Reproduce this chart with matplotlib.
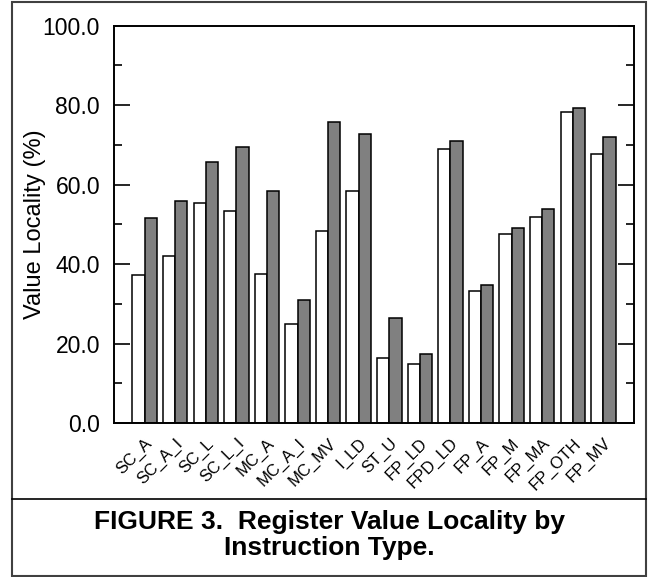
import matplotlib.pyplot as plt
import numpy as np
from matplotlib.patches import Rectangle
from matplotlib.lines import Line2D
from matplotlib.ticker import MultipleLocator, FormatStrFormatter

plt.rcParams['font.family'] = ['Liberation Sans', 'DejaVu Sans']

# instruction types and the two locality series (%)
types = ['SC_A', 'SC_A_I', 'SC_L', 'SC_L_I', 'MC_A', 'MC_A_I', 'MC_MV', 'I_LD',
         'ST_U', 'FP_LD', 'FPD_LD', 'FP_A', 'FP_M', 'FP_MA', 'FP_OTH', 'FP_MV']
white_vals = [37.3, 42.1, 55.3, 53.4, 37.6, 25.0, 48.3, 58.3,
              16.4, 14.8, 68.9, 33.2, 47.6, 51.8, 78.2, 67.8]
gray_vals = [51.7, 56.0, 65.8, 69.5, 58.4, 31.0, 75.8, 72.8,
             26.5, 17.3, 71.1, 34.8, 49.1, 53.9, 79.3, 72.1]

W, H = 649, 577
fig = plt.figure(figsize=(W / 100, H / 100), dpi=100)
ax = fig.add_axes([114 / W, 1 - 423 / H, 520 / W, (423 - 25.7) / H])

x = np.arange(1, len(types) + 1)
w = 0.4
ax.bar(x - w / 2, white_vals, w, color='white', edgecolor='black', linewidth=1.1)
ax.bar(x + w / 2, gray_vals, w, color='#808080', edgecolor='black', linewidth=1.1)

ax.set_xlim(0, 17)
ax.set_ylim(0, 100)
ax.yaxis.set_major_locator(MultipleLocator(20))
ax.yaxis.set_minor_locator(MultipleLocator(10))
ax.yaxis.set_major_formatter(FormatStrFormatter('%.1f'))
ax.tick_params(axis='y', which='both', direction='in', left=True, right=True, width=1.2)
ax.tick_params(axis='y', which='major', length=11.5, labelsize=16.5, pad=10)
ax.tick_params(axis='y', which='minor', length=6)
ax.tick_params(axis='x', length=0, pad=9)
ax.set_xticks(x)
ax.set_xticklabels(types, rotation=45, ha='right', va='top', rotation_mode='anchor', fontsize=12)
for s in ax.spines.values():
    s.set_linewidth(1.4)

ax.set_ylabel('Value Locality (%)', fontsize=17)
ax.yaxis.set_label_coords(-0.13, 0.5)

# outer frame and caption box
fig.add_artist(Rectangle((12 / W, 1 - 576 / H), 634 / W, 574 / H, transform=fig.transFigure,
                         fill=False, edgecolor='#404040', linewidth=1.5))
fig.add_artist(Line2D([12 / W, 646 / W], [1 - 499 / H, 1 - 499 / H], transform=fig.transFigure,
                      color='black', linewidth=1.2))
fig.text(329 / W, 1 - 522 / H, 'FIGURE 3.  Register Value Locality by', ha='center', va='center',
         fontsize=19, fontweight='bold')
fig.text(329 / W, 1 - 548 / H, 'Instruction Type.', ha='center', va='center',
         fontsize=19, fontweight='bold')

fig.savefig('out.png', dpi=100)
